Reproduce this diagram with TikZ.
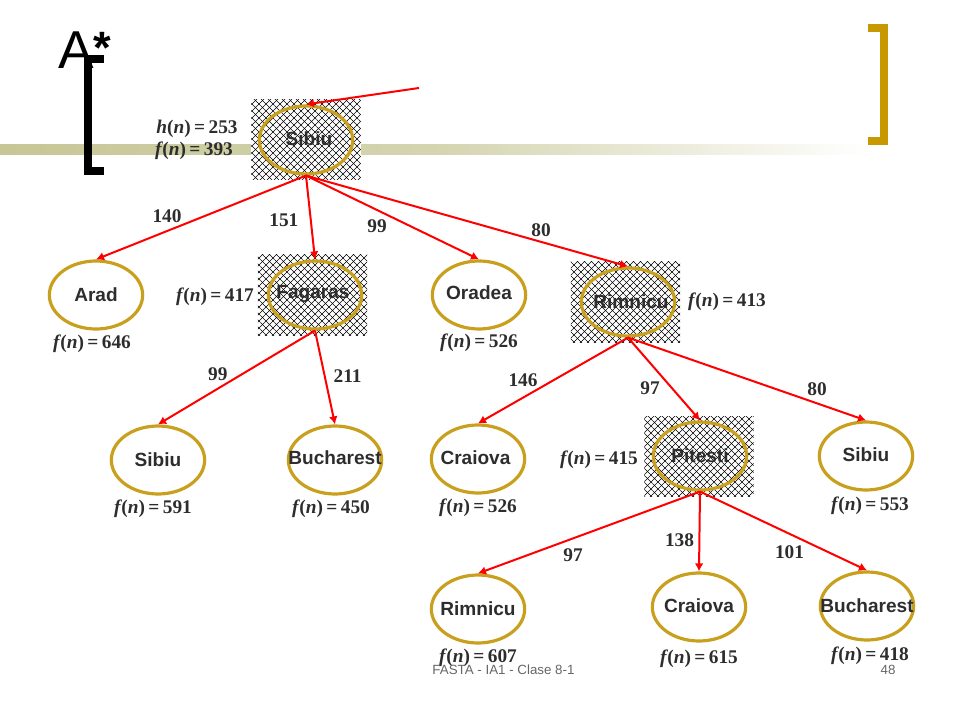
\documentclass[tikz,border=0pt]{standalone}
\usepackage{fontspec}
\setmainfont{Liberation Serif}
\setsansfont{Liberation Sans}
\usepackage{tikz}
\usetikzlibrary{arrows.meta,shapes,positioning,backgrounds,patterns.meta}
\definecolor{goldline}{RGB}{201,160,30}
\definecolor{goldbar}{RGB}{200,152,0}
\definecolor{bandcol}{RGB}{198,198,150}
\definecolor{inkcol}{RGB}{45,45,45}
\tikzstyle{city}    = [ellipse, draw=goldline, line width=2.4pt, minimum width=70pt, minimum height=51pt,
    inner sep=0pt, text=inkcol, font=\fontsize{14.3}{16}\sffamily\bfseries]
\tikzstyle{hatchbox} = [rectangle, fill=white, minimum width=82pt, minimum height=60pt, inner sep=0pt,
    postaction={pattern={Lines[angle=45,distance=3.7123pt,line width=.35pt]}},
    postaction={pattern={Lines[angle=-45,distance=3.7123pt,line width=.35pt]}}]
\tikzstyle{line} = [draw=red, line width=1.5pt, -{Latex[length=6pt,width=6.5pt]}]
\tikzstyle{weight} = [inner sep=0pt, yshift=-.75pt, text=inkcol, font=\fontsize{14.5}{16}\selectfont\bfseries]
\tikzstyle{cost} = [weight, yshift=-.75pt, node distance=35pt]
\tikzstyle{footer} = [inner sep=0pt, text=black!60, font=\fontsize{10}{11}\sffamily]
\tikzstyle{bracket} = [line width=6pt, miter limit=10]
% text, shift right, shift up (pt); the text does not size the node
\newcommand{\cname}[3]{\smash{\raisebox{\dimexpr#3pt-5.2pt}{\kern#2pt\makebox[0pt]{#1}\kern-#2pt}}}
\newcommand{\fval}[1]{\textit{f}\kern-.6pt(\textit{n})\kern2.6pt=\kern2.6pt#1}

\begin{document}
\begin{tikzpicture}[x=.75pt,y=-.75pt]
    \useasboundingbox (0,0) rectangle (960,720);
    % Place nodes
    \node [city] (sibiuRoot) at (306,140) {\cname{Sibiu}{2.25}{.75}};
    \node [city, below of=sibiuRoot, node distance=116.25pt, xshift=-157.5pt] (arad) {\cname{Arad}{0}{0}};
    \node [city, right of=arad, node distance=164.25pt] (fagaras) {\cname{Fagaras}{-1.5}{2.25}};
    \node [city, right of=fagaras, node distance=123pt] (oradea) {\cname{Oradea}{0}{1.5}};
    \node [city, right of=oradea, node distance=111.75pt, yshift=-5.25pt] (rimnicu) {\cname{Rimnicu}{2.25}{0}};

    \node [city, below of=fagaras, node distance=123.75pt, xshift=-117.75pt] (sibiuA) {\cname{Sibiu}{0}{0}};
    \node [city, right of=sibiuA, node distance=132.75pt] (bucharestA) {\cname{Bucharest}{0}{1.5}};
    \node [city, below of=rimnicu, node distance=117.75pt, xshift=-112.5pt] (craiovaA) {\cname{Craiova}{-1.9}{.75}};
    \node [city, right of=craiovaA, node distance=166.5pt, yshift=2.25pt] (pitesti) {\cname{Pitesti}{0}{0}};
    \node [city, right of=pitesti, node distance=124.5pt] (sibiuB) {\cname{Sibiu}{0}{.75}};

    \node [city, below of=craiovaA, node distance=112.5pt] (rimnicuB) {\cname{Rimnicu}{0}{0}};
    \node [city, right of=rimnicuB, node distance=165.75pt, yshift=1.5pt] (craiovaB) {\cname{Craiova}{0}{.75}};
    \node [city, right of=craiovaB, node distance=126pt, yshift=.75pt] (bucharestB) {\cname{Bucharest}{0}{0}};

    % band and hatching stay behind the nodes
    \begin{scope}[on background layer]
    \shade [left color=bandcol, right color=white, middle color=bandcol!75] (0,145) rectangle (870,155);
    \node [hatchbox] (hatchRoot) at (sibiuRoot) {};
    \node [hatchbox, xshift=-1.9pt] (hatchFagaras) at (fagaras) {};
    \node [hatchbox, xshift=-1.9pt] (hatchRimnicu) at (rimnicu) {};
    \node [hatchbox, xshift=-.75pt] (hatchPitesti) at (pitesti) {};
    \end{scope}

    \node [font=\fontsize{40}{44}\sffamily, inner sep=0pt, anchor=base west] (title) at (58,69) {A\raisebox{4.3pt}{\fontsize{34}{36}\selectfont\bfseries *}};
    \draw [bracket] (104,59) -- (88,59) -- (88,171) -- (104,171);
    \draw [bracket, draw=goldbar] (868,28) -- (884,28) -- (884,141) -- (868,141);

    \coordinate (start) at (419,88);
    \path [line] (start) -- (sibiuRoot.north);

    \path [line] (sibiuRoot.south) -- node [weight, xshift=-25.5pt, yshift=1.5pt] (w140) {140} (arad.north);
    \path [line] (sibiuRoot.south) -- node [weight, xshift=-20pt, yshift=-1.5pt] (w151) {151} (fagaras.north);
    \path [line] (sibiuRoot.south) -- node [weight, xshift=-11.6pt, yshift=-6pt] (w99a) {99} (oradea.north);
    \path [line] (sibiuRoot.south) -- node [weight, xshift=55.5pt, yshift=-6pt] (w80a) {80} (rimnicu.north);
    \path [line] (fagaras.south) -- node [weight, xshift=-14pt, yshift=3pt] (w99b) {99} (sibiuA.north);
    \path [line] (fagaras.south) -- node [weight, xshift=17pt, yshift=2pt] (w211) {211} (bucharestA.north);
    \path [line] (rimnicu.south) -- node [weight, xshift=-22.5pt, yshift=1pt] (w146) {146} (craiovaA.north);
    \path [line] (rimnicu.south) -- node [weight, xshift=-10.5pt, yshift=-6pt] (w97a) {97} (pitesti.north);
    \path [line] (rimnicu.south) -- node [weight, xshift=52.5pt, yshift=-7pt] (w80b) {80} (sibiuB.north);
    \path [line] (pitesti.south) -- node [weight, xshift=-12pt, yshift=-16.5pt] (w97b) {97} (rimnicuB.north);
    \path [line] (pitesti.south) -- node [weight, xshift=-15pt, yshift=-6pt] (w138) {138} (craiovaB.north);
    \path [line] (pitesti.south) -- node [weight, xshift=4.5pt, yshift=-15pt] (w101) {101} (bucharestB.north);

    % values next to the nodes
    \node [cost] (hRoot) at (197,127) {\textit{h}(\textit{n})\kern2.6pt=\kern2.6pt253};
    \node [cost] (fRoot) at (194,149) {\fval{393}};
    \node [cost] (fFagaras) at (215,295) {\fval{417}};
    \node [cost] (fRimnicu) at (727,300) {\fval{413}};
    \node [cost] (fPitesti) at (599,458) {\fval{415}};
    \node [cost, below of=arad, xshift=-3pt] (fArad) {\fval{646}};
    \node [cost, below of=oradea, node distance=34.5pt] (fOradea) {\fval{526}};
    \node [cost, below of=sibiuA, xshift=-3.75pt] (fSibiuA) {\fval{591}};
    \node [cost, below of=bucharestA, xshift=-3pt] (fBucharestA) {\fval{450}};
    \node [cost, below of=craiovaA] (fCraiovaA) {\fval{526}};
    \node [cost, below of=sibiuB, node distance=36pt, xshift=3pt] (fSibiuB) {\fval{553}};
    \node [cost, below of=rimnicuB] (fRimnicuB) {\fval{607}};
    \node [cost, below of=craiovaB, node distance=37.5pt] (fCraiovaB) {\fval{615}};
    \node [cost, below of=bucharestB, node distance=36pt, xshift=2.25pt] (fBucharestB) {\fval{418}};

    \node [footer] (footLeft) at (503.5,670) {FASTA - IA1 - Clase 8-1};
    \node [footer] (footRight) at (888,670) {48};
\end{tikzpicture}
\end{document}
